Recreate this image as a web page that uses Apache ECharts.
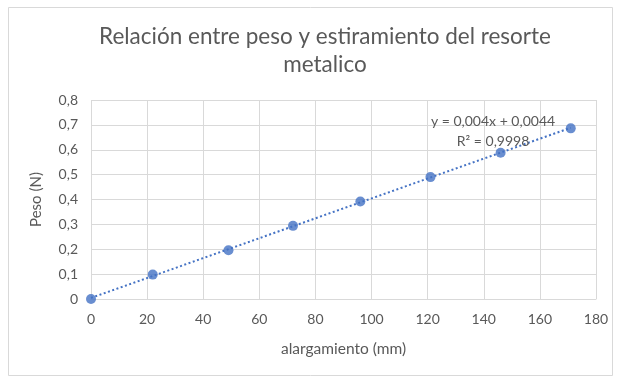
<!DOCTYPE html>
<html><head><meta charset="utf-8">
<script src="https://cdn.jsdelivr.net/npm/echarts@6/dist/echarts.min.js"></script>
<style>html,body{margin:0;padding:0;background:#fff}#c{width:619px;height:377px}</style>
</head><body><div id="c"></div>
<script>
const alargamiento = [0, 22, 49, 72, 96, 121, 146, 171];
const peso = [0, 0.098, 0.196, 0.294, 0.392, 0.49, 0.588, 0.686];
const trendX = [0, 171];
const trendY = [0.0044, 0.6884];
const xTicks = [0, 20, 40, 60, 80, 100, 120, 140, 160, 180];
const yTicks = [0, 0.1, 0.2, 0.3, 0.4, 0.5, 0.6, 0.7, 0.8];
const titleText = 'Relación entre peso y estiramiento del resorte\nmetalico';
const eqText = 'y = 0,004x + 0,0044';
const r2Text = 'R² = 0,9998';

const FONT = 'Lato, "Open Sans", sans-serif';
const TXT = '#595959';
const BLUE = '#4472C4';
const chart = echarts.init(document.getElementById('c'));
chart.setOption({
  animation: false,
  backgroundColor: '#fff',
  textStyle: {fontFamily: FONT},
  graphic: [{type: 'rect', shape: {x: 8.5, y: 7.5, width: 604, height: 368}, style: {fill: 'none', stroke: '#d9d9d9', lineWidth: 1}, silent: true}],
  title: {
    text: titleText, left: 320, textAlign: 'center', top: 18,
    textStyle: {fontFamily: FONT, fontSize: 22.5, fontWeight: 'normal', color: TXT, lineHeight: 28, align: 'center'}
  },
  grid: {left: 91, right: 23, top: 100, bottom: 78},
  xAxis: {
    type: 'value', min: xTicks[0], max: xTicks[xTicks.length - 1], interval: 20,
    name: 'alargamiento (mm)', nameLocation: 'middle', nameGap: 42,
    nameTextStyle: {fontFamily: FONT, fontSize: 15.5, color: TXT},
    axisLine: {show: true, lineStyle: {color: '#d9d9d9'}},
    axisTick: {show: false},
    axisLabel: {fontFamily: FONT, fontSize: 14, color: TXT, margin: 13},
    splitLine: {show: true, lineStyle: {color: '#d9d9d9', width: 1}}
  },
  yAxis: {
    type: 'value', min: yTicks[0], max: yTicks[yTicks.length - 1], interval: 0.1,
    name: 'Peso (N)', nameLocation: 'middle', nameGap: 47, nameRotate: 90,
    nameTextStyle: {fontFamily: FONT, fontSize: 15, color: TXT},
    axisLine: {show: false},
    axisTick: {show: false},
    axisLabel: {fontFamily: FONT, fontSize: 14, color: TXT, margin: 13,
      formatter: v => String(Math.round(v * 10) / 10).replace('.', ',')},
    splitLine: {show: true, lineStyle: {color: '#d9d9d9', width: 1}}
  },
  series: [
    {
      type: 'line', data: trendX.map((x, i) => [x, trendY[i]]),
      symbol: 'none', lineStyle: {color: BLUE, width: 2, type: [2, 2.5]}, z: 2,
      markPoint: {
        symbol: 'circle', symbolSize: 0, silent: true,
        label: {show: true, fontFamily: FONT, fontSize: 14, color: TXT, position: 'inside'},
        data: [
          {coord: [143.3, 0.712], value: eqText, label: {formatter: eqText}},
          {coord: [143.3, 0.635], value: r2Text, label: {formatter: r2Text}}
        ]
      }
    },
    {
      type: 'scatter', data: alargamiento.map((x, i) => [x, peso[i]]),
      symbol: 'circle', symbolSize: 10, itemStyle: {color: BLUE}, z: 3
    }
  ]
});
</script></body></html>
